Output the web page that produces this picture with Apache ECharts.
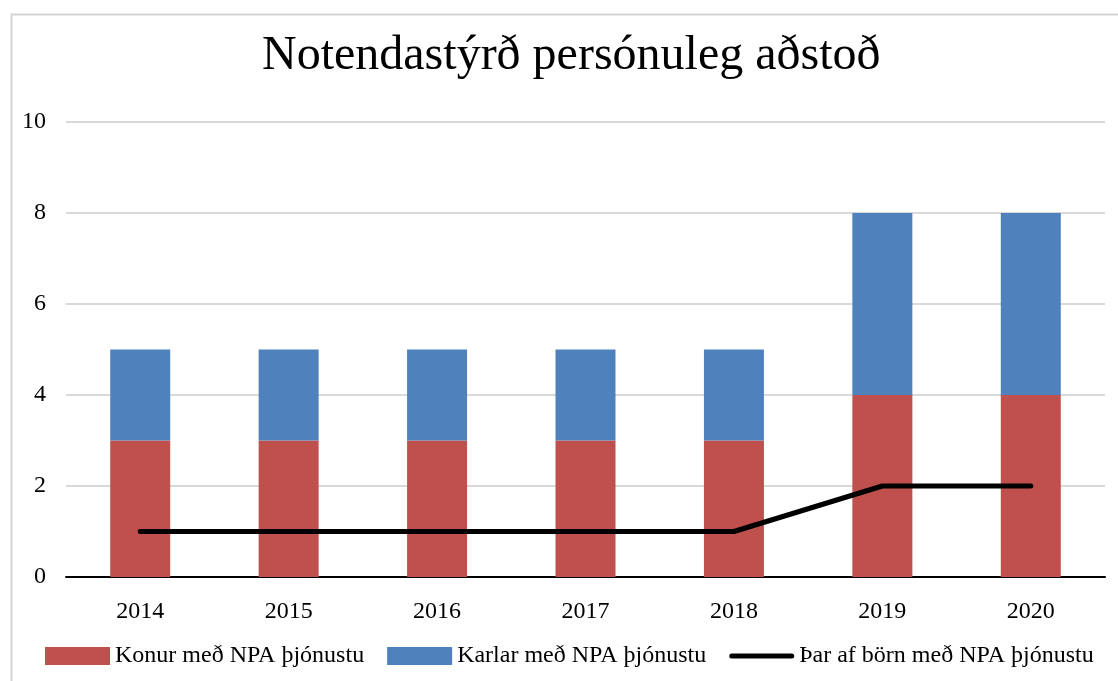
<!DOCTYPE html>
<html>
<head>
    <meta charset="utf-8">
    <title>Notendastýrð persónuleg aðstoð</title>
    <style>
        * {
            margin: 0;
            padding: 0;
        }
        #chart-container {
            position: relative;
            width: 1118px;
            height: 681px;
            overflow: hidden;
        }
    </style>
</head>
<body>
<div id="chart-container"></div>
<script src="https://cdn.jsdelivr.net/npm/echarts@6/dist/echarts.min.js"></script>
<script>
    // values
    const years = ['2014', '2015', '2016', '2017', '2018', '2019', '2020'];
    const konur = [3, 3, 3, 3, 3, 4, 4];
    const karlar = [2, 2, 2, 2, 2, 4, 4];
    const born = [1, 1, 1, 1, 1, 2, 2];

    const serif = '"Liberation Serif", "Times New Roman", serif';

    var dom = document.getElementById('chart-container');
    var myChart = echarts.init(dom, null, { renderer: 'canvas' });

    var option = {
        animation: false,
        textStyle: { fontFamily: serif, color: '#000' },
        title: {
            text: 'Notendastýrð persónuleg aðstoð',
            left: 257,
            top: 27,
            textStyle: { fontFamily: serif, fontSize: 48, fontWeight: 'normal', color: '#000' }
        },
        graphic: [{
            type: 'rect',
            left: 9,
            top: 12,
            shape: { width: 1300, height: 900 },
            style: { fill: 'none', stroke: '#d4d4d4', lineWidth: 2 },
            silent: true,
            z: -1
        }],
        legend: {
            left: 40,
            top: 639,
            itemWidth: 65,
            itemHeight: 18,
            itemGap: 23,
            textStyle: { fontFamily: serif, fontSize: 24, color: '#000' },
            data: [
                { name: 'Konur með NPA þjónustu', icon: 'rect' },
                { name: 'Karlar með NPA þjónustu', icon: 'rect' },
                {
                    name: 'Þar af börn með NPA þjónustu',
                    icon: 'path://M2.5,0H62.5A2.5,2.5,0,0,1,62.5,5H2.5A2.5,2.5,0,0,1,2.5,0Z'
                }
            ]
        },
        grid: { left: 66, right: 13, top: 122, bottom: 104 },
        xAxis: {
            type: 'category',
            data: years,
            axisTick: { show: false },
            axisLine: { lineStyle: { color: '#000', width: 2 } },
            axisLabel: { fontFamily: serif, fontSize: 24, color: '#000', margin: 23 }
        },
        yAxis: {
            type: 'value',
            min: 0,
            max: 10,
            interval: 2,
            axisLine: { show: false },
            axisTick: { show: false },
            axisLabel: { fontFamily: serif, fontSize: 24, color: '#000', margin: 20 },
            splitLine: { lineStyle: { color: '#d9d9d9', width: 2 } }
        },
        series: [
            {
                name: 'Konur með NPA þjónustu',
                type: 'bar',
                stack: 'npa',
                barWidth: 60,
                itemStyle: { color: '#C0504D' },
                data: konur
            },
            {
                name: 'Karlar með NPA þjónustu',
                type: 'bar',
                stack: 'npa',
                barWidth: 60,
                itemStyle: { color: '#4F81BD' },
                data: karlar
            },
            {
                name: 'Þar af börn með NPA þjónustu',
                type: 'line',
                symbol: 'none',
                z: 5,
                itemStyle: { color: '#000' },
                lineStyle: { color: '#000', width: 5, cap: 'round', join: 'round' },
                data: born
            }
        ]
    };

    myChart.setOption(option);
    window.addEventListener('resize', myChart.resize);
</script>
</body>
</html>
